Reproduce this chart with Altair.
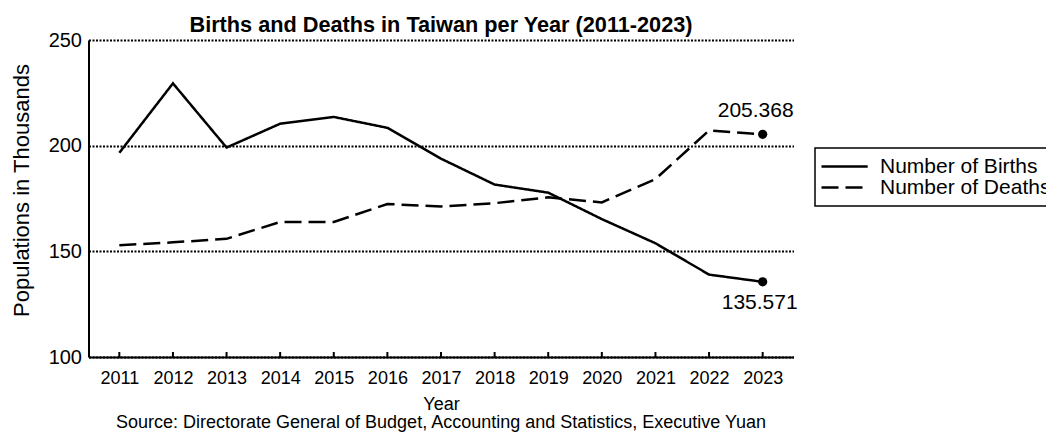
import altair as alt
import pandas as pd

years = [2011, 2012, 2013, 2014, 2015, 2016, 2017, 2018, 2019, 2020, 2021, 2022, 2023]
births = [196.627, 229.481, 199.113, 210.383, 213.598, 208.440, 193.844, 181.601,
          177.767, 165.249, 153.820, 138.986, 135.571]
deaths = [152.915, 154.251, 155.908, 163.929, 163.858, 172.405, 171.242, 172.784,
          175.546, 173.156, 184.172, 207.230, 205.368]
series_names = ["Number of Births", "Number of Deaths"]
y_ticks = [100, 150, 200, 250]
title_text = "Births and Deaths in Taiwan per Year (2011-2023)"
source_text = "Source: Directorate General of Budget, Accounting and Statistics, Executive Yuan"

FONT = "Liberation Sans"
W, H = 705, 317
TOTAL_W, TOTAL_H = 1038, 424

rows = []
for yr, b, d in zip(years, births, deaths):
    rows.append({"Year": yr, "Series": series_names[0], "Value": b})
    rows.append({"Year": yr, "Series": series_names[1], "Value": d})
df = pd.DataFrame(rows)
last = df[df["Year"] == years[-1]].copy()
last["Label"] = last["Value"].map(lambda v: f"{v:.3f}")
years_df = pd.DataFrame({"Year": years})
src_df = pd.DataFrame({"t": [source_text]})

xscale = alt.Scale(type="point", padding=0.575)
yscale = alt.Scale(domain=[100, 250], nice=False, zero=False)

x_enc = alt.X("Year:O", scale=xscale,
              axis=alt.Axis(title="Year", labelAngle=0, ticks=False, labelPadding=12,
                            titlePadding=8, domainWidth=2, domainColor="black"))
y_enc = alt.Y("Value:Q", scale=yscale,
              axis=alt.Axis(title="Populations in Thousands", values=y_ticks, ticks=False,
                            labelPadding=7, titlePadding=14.5, titleY=150, grid=True,
                            gridDash=[2, 1.5], gridColor="black", gridWidth=2, gridOpacity=1,
                            domainWidth=2, domainColor="black"))

lines = alt.Chart(df).mark_line(color="black", strokeWidth=2.5).encode(
    x=x_enc,
    y=y_enc,
    strokeDash=alt.StrokeDash(
        "Series:N",
        scale=alt.Scale(domain=series_names, range=[[1, 0], [17, 7]]),
        legend=alt.Legend(title=None, orient="none", legendX=726.5, legendY=108,
                          symbolType="M-2,0H5.7", symbolSize=144, symbolStrokeWidth=2.5,
                          symbolStrokeColor="black", labelFontSize=21, labelFont=FONT,
                          labelColor="black", labelOffset=36, rowPadding=-2, padding=8,
                          strokeColor="black", labelLimit=400),
    ),
)

ticks = alt.Chart(years_df).mark_rule(color="black", strokeWidth=2).encode(
    x=alt.X("Year:O", scale=xscale),
    y=alt.value(H),
    y2=alt.value(H - 5),
)

points = alt.Chart(last).mark_circle(color="black", size=85, opacity=1).encode(
    x=alt.X("Year:O", scale=xscale),
    y=alt.Y("Value:Q", scale=yscale),
)

lbl_top = alt.Chart(last[last["Series"] == series_names[1]]).mark_text(
    font=FONT, fontSize=21, color="black", dy=-23, dx=-7
).encode(x=alt.X("Year:O", scale=xscale), y=alt.Y("Value:Q", scale=yscale), text="Label:N")

lbl_bot = alt.Chart(last[last["Series"] == series_names[0]]).mark_text(
    font=FONT, fontSize=21, color="black", dy=21, dx=-3
).encode(x=alt.X("Year:O", scale=xscale), y=alt.Y("Value:Q", scale=yscale), text="Label:N")

source = alt.Chart(src_df).mark_text(font=FONT, fontSize=18, color="black", baseline="middle").encode(
    x=alt.value(W / 2), y=alt.value(382.5), text="t:N"
)

chart = alt.layer(lines, ticks, points, lbl_top, lbl_bot, source).properties(
    width=W, height=H,
    title=alt.TitleParams(title_text, font=FONT, fontSize=21.7, fontWeight="bold",
                          color="black", anchor="middle", offset=-7),
    autosize=alt.AutoSizeParams(type="none"),
    padding={"left": 80.5, "top": 32, "right": TOTAL_W - 80.5 - W, "bottom": TOTAL_H - 32 - H},
).configure_view(stroke=None).configure_axis(
    labelFont=FONT, titleFont=FONT, labelColor="black", titleColor="black",
    titleFontWeight="normal",
).configure_axisX(labelFontSize=18, titleFontSize=18).configure_axisY(
    labelFontSize=20, titleFontSize=22
).configure_legend(strokeWidth=1.5)

chart.save("out.html", embed_options={"renderer": "svg", "actions": False})
